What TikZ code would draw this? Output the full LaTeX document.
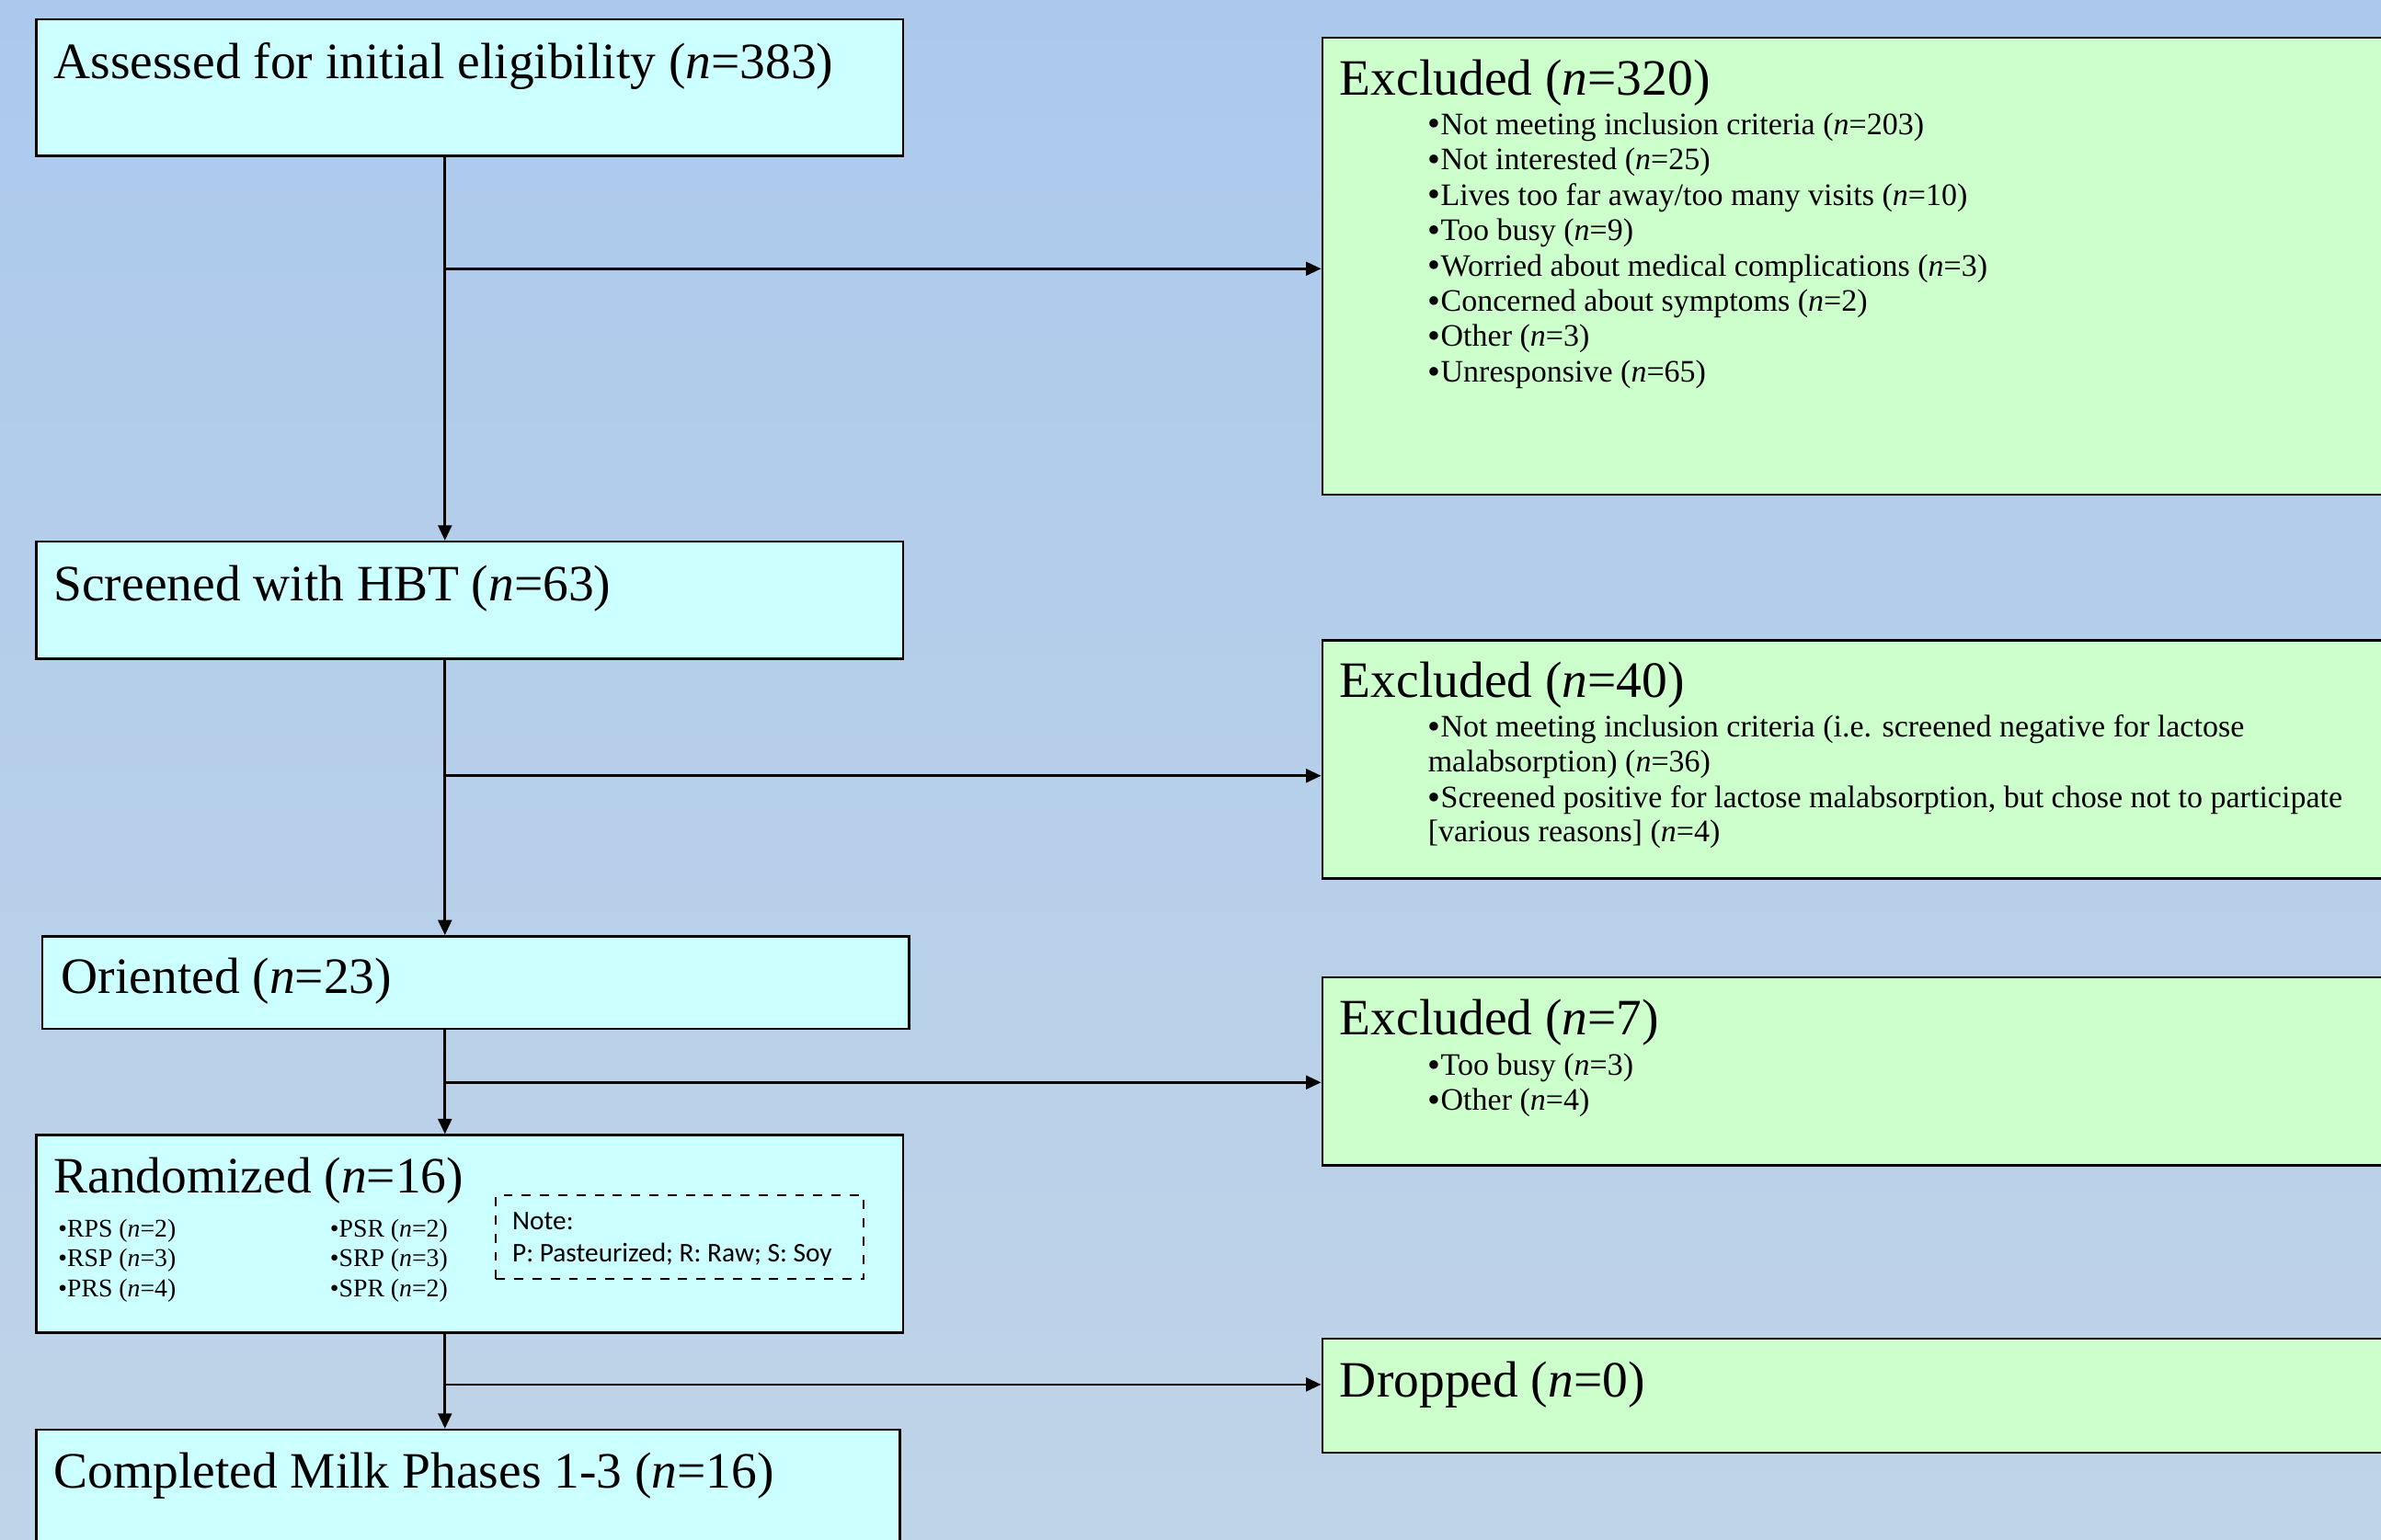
\documentclass[tikz,border=0pt]{standalone}
\usepackage{fontspec}
\setmainfont{Liberation Serif}
\newfontfamily\notefont{Carlito}
\usetikzlibrary{arrows.meta}
\definecolor{bgtop}{RGB}{172,201,236}
\definecolor{bgbot}{RGB}{192,212,232}
\definecolor{cyanbox}{RGB}{204,255,255}
\definecolor{greenbox}{RGB}{204,255,204}
\newcommand{\bul}{{\large\raisebox{-0.1ex}{•}}}
\begin{document}
\begin{tikzpicture}[x=0.5pt,y=-0.5pt,
  flowbox/.style={draw=black,line width=0.8pt,fill=cyanbox,rectangle,inner sep=0pt,anchor=north west},
  exbox/.style={flowbox,fill=greenbox,minimum width=352.5pt},
  titletxt/.style={anchor=base west,inner sep=0pt,font=\fontsize{16.8}{20}\selectfont},
  itemtxt/.style={anchor=base west,inner sep=0pt,font=\fontsize{10.3}{12}\selectfont},
  smalltxt/.style={anchor=base west,inner sep=0pt,font=\fontsize{8.4}{10}\selectfont},
  notetxt/.style={anchor=base west,inner sep=0pt,font=\notefont\fontsize{8.9}{10}\selectfont},
  arr/.style={line width=0.8pt,-{Triangle[length=5pt,width=4.5pt]}}]
\useasboundingbox (0,0) rectangle (1568,1014);
\shade[top color=bgtop,bottom color=bgbot] (0,0) rectangle (1568,1014);

% boxes
\node[flowbox,minimum width=285.5pt,minimum height=45pt] (A) at (23,12) {};
\node[exbox,minimum height=150.5pt] (E1) at (870,24) {};
\node[flowbox,minimum width=285.5pt,minimum height=38.5pt] (B) at (23,356) {};
\node[exbox,minimum height=78.5pt] (E2) at (870,421) {};
\node[flowbox,minimum width=285.5pt,minimum height=30.5pt] (C) at (27,616) {};
\node[exbox,minimum height=62pt] (E3) at (870,643) {};
\node[flowbox,minimum width=285.5pt,minimum height=65pt] (D) at (23,747) {};
\node[draw=black,dashed,line width=0.6pt,rectangle,inner sep=0pt,anchor=north west,
      minimum width=121pt,minimum height=27.5pt] (N) at (326,787) {};
\node[exbox,minimum height=37.5pt] (E4) at (870,881) {};
\node[flowbox,minimum width=284.5pt,minimum height=42pt] (F) at (23,941) {};

% titles
\node[titletxt] (tA) at (35,51.5) {Assessed for initial eligibility (\textit{n}=383)};
\node[titletxt] (tE1) at (882,62.5) {Excluded (\textit{n}=320)};
\node[titletxt] (tB) at (35,395.5) {Screened with HBT (\textit{n}=63)};
\node[titletxt] (tE2) at (882,459.5) {Excluded (\textit{n}=40)};
\node[titletxt] (tC) at (40,654.5) {Oriented (\textit{n}=23)};
\node[titletxt] (tE3) at (882,681.5) {Excluded (\textit{n}=7)};
\node[titletxt] (tD) at (35,785.5) {Randomized (\textit{n}=16)};
\node[titletxt] (tE4) at (882,920.5) {Dropped (\textit{n}=0)};
\node[titletxt] (tF) at (35,980.5) {Completed Milk Phases 1-3 (\textit{n}=16)};

% E1 items
\node[itemtxt] (e1a) at (940,88.5) {\bul Not meeting inclusion criteria (\textit{n}=203)};
\node[itemtxt] (e1b) at (940,111.8) {\bul Not interested (\textit{n}=25)};
\node[itemtxt] (e1c) at (940,135.1) {\bul Lives too far away/too many visits (\textit{n}=10)};
\node[itemtxt] (e1d) at (940,158.4) {\bul Too busy (\textit{n}=9)};
\node[itemtxt] (e1e) at (940,181.7) {\bul Worried about medical complications (\textit{n}=3)};
\node[itemtxt] (e1f) at (940,205) {\bul Concerned about symptoms (\textit{n}=2)};
\node[itemtxt] (e1g) at (940,228.3) {\bul Other (\textit{n}=3)};
\node[itemtxt] (e1h) at (940,251.5) {\bul Unresponsive (\textit{n}=65)};

% E2 items
\node[itemtxt] (e2a) at (940,485.5) {\bul Not meeting inclusion criteria (i.e. screened negative for lactose};
\node[itemtxt] (e2b) at (940,508.5) {malabsorption) (\textit{n}=36)};
\node[itemtxt] (e2c) at (940,532) {\bul Screened positive for lactose malabsorption, but chose not to participate};
\node[itemtxt] (e2d) at (940,554.5) {[various reasons] (\textit{n}=4)};

% E3 items
\node[itemtxt] (e3a) at (940,708.5) {\bul Too busy (\textit{n}=3)};
\node[itemtxt] (e3b) at (940,731.5) {\bul Other (\textit{n}=4)};

% Randomized items
\node[smalltxt] (d1) at (38,815) {•RPS (\textit{n}=2)};
\node[smalltxt] (d2) at (38,834.5) {•RSP (\textit{n}=3)};
\node[smalltxt] (d3) at (38,854) {•PRS (\textit{n}=4)};
\node[smalltxt] (d4) at (217,815) {•PSR (\textit{n}=2)};
\node[smalltxt] (d5) at (217,834.5) {•SRP (\textit{n}=3)};
\node[smalltxt] (d6) at (217,854) {•SPR (\textit{n}=2)};
\node[notetxt] (n1) at (337,810) {Note:};
\node[notetxt] (n2) at (337,831) {P: Pasteurized; R: Raw; S: Soy};

% connectors
\coordinate (j1) at (293,177);
\coordinate (j2) at (293,511);
\coordinate (j3) at (293,713);
\coordinate (j4) at (293,912);
\draw[arr] (A.south -| j1) -- (j1 |- B.north);
\draw[arr] (j1) -- (j1 -| E1.west);
\draw[arr] (B.south -| j2) -- (j2 |- C.north);
\draw[arr] (j2) -- (j2 -| E2.west);
\draw[arr] (C.south -| j3) -- (j3 |- D.north);
\draw[arr] (j3) -- (j3 -| E3.west);
\draw[arr] (D.south -| j4) -- (j4 |- F.north);
\draw[arr] (j4) -- (j4 -| E4.west);
\end{tikzpicture}
\end{document}
